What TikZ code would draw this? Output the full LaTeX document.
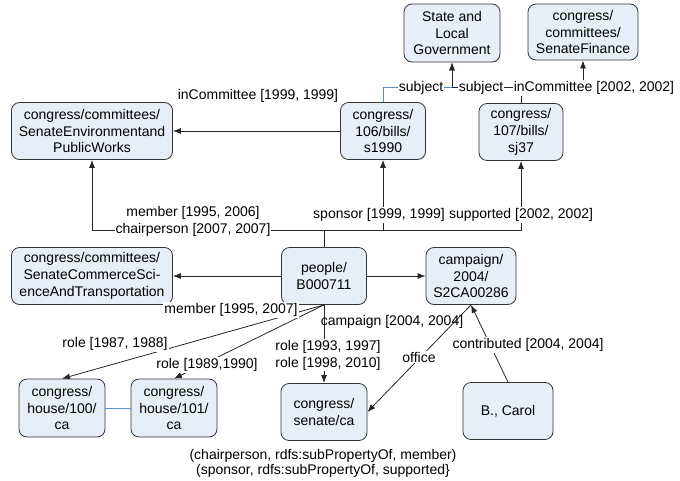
\documentclass[tikz,border=0pt]{standalone}
\usepackage{fontspec}
\setmainfont{Liberation Sans}
\usetikzlibrary{arrows.meta}
\definecolor{boxfill}{HTML}{E8EEF7}
\definecolor{subjblue}{HTML}{5B8BD0}

\begin{document}
\begin{tikzpicture}[x=1pt,y=-1pt,line width=0.8pt,
    font=\fontsize{14}{16.8}\selectfont,
    box/.style={draw=black!80,fill=boxfill,rounded corners=8pt,align=center,
      minimum height=57pt,inner sep=2pt},
    rel/.style={draw=black!85,-{Latex[length=8pt,width=6pt]}},
    lbl/.style={fill=white,inner sep=1pt,align=center}]

    \useasboundingbox (0,0) rectangle (680,480);

    \node[box,minimum width=96pt,minimum height=58pt] (state) at (452,33) {State and\\Local\\Government};
    \node[box,minimum width=110pt,minimum height=56pt] (finance) at (583,32) {congress/\\committees/\\SenateFinance};
    \node[box,minimum width=161pt] (env) at (92,131) {congress/committees/\\SenateEnvironmentand\\PublicWorks};
    \node[box,minimum width=85pt] (s1990) at (383,131) {congress/\\106/bills/\\s1990};
    \node[box,minimum width=84pt] (sj37) at (521,132) {congress/\\107/bills/\\sj37};
    \node[box,minimum width=161pt] (commerce) at (92,276) {congress/committees/\\SenateCommerceSci-\\enceAndTransportation};
    \node[box,minimum width=85pt] (people) at (324,276) {people/\\B000711};
    \node[box,minimum width=90pt] (campaign) at (471,276) {campaign/\\2004/\\S2CA00286};
    \node[box,minimum width=86pt,minimum height=58pt] (house100) at (62,408) {congress/\\house/100/\\ca};
    \node[box,minimum width=86pt,minimum height=58pt] (house101) at (174,408) {congress/\\house/101/\\ca};
    \node[box,minimum width=86pt] (senate) at (324,412) {congress/\\senate/ca};
    \node[box,minimum width=90pt] (carol) at (508,411) {B., Carol};

    % bills and committees
    \path[draw] (s1990) edge[rel] (env);
    \draw[rel,draw=subjblue] (s1990.north) -- ++(0,-15) -| (state.south);
    \draw[rel] (sj37.north) -- ++(0,-16) -| (state.south);
    \draw[rel] (sj37.north) -- ++(0,-16) -| (finance.south);

    % people bus
    \draw[rel] (people.north) -- ++(0,-17) -| (env.south);
    \draw[rel] (people.north) -- ++(0,-17) -| (s1990.south);
    \draw[rel] (people.north) -- ++(0,-17) -| (sj37.south);

    \path[draw] (people) edge[rel] (commerce);
    \path[draw] (people) edge[rel] (campaign);
    \path[draw] (people.south) edge[rel] (senate.north);
    \path[draw] (people.south) edge[rel] (house100.north);
    \path[draw] (people.south) edge[rel] (house101.north);
    \path[draw] (campaign.south) edge[rel] (senate.east);
    \path[draw] (carol.north) edge[rel] (campaign.south);
    \draw[subjblue] (house100) -- (house101);

    % labels
    \node (incom1) at (258,96) {inCommittee [1999, 1999]};
    \node[lbl] (subj1) at (421,88) {subject};
    \node[lbl] (subj2) at (481,88) {subject};
    \node[lbl] (incom2) at (594,88) {inCommittee [2002, 2002]};
    \node[lbl] (memb) at (193,221) {member [1995, 2006]\\chairperson [2007, 2007]};
    \node[lbl] (spons) at (379,215) {sponsor [1999, 1999]};
    \node[lbl] (supp) at (521,215) {supported [2002, 2002]};
    \node[lbl] (memb2) at (231,310) {member [1995, 2007]};
    \node (camp) at (392,322) {campaign [2004, 2004]};
    \node[lbl] (roles) at (328,355) {role [1993, 1997]\\role [1998, 2010]};
    \node[lbl] (role1) at (115,344) {role [1987, 1988]};
    \node[lbl] (role2) at (207,365) {role [1989,1990]};
    \node[lbl] (off) at (419,357) {office};
    \node[lbl] (contr) at (528,345) {contributed [2004, 2004]};
    \node[align=center] (note) at (323,463) {(chairperson, rdfs:subPropertyOf, member)\\[-1.8pt](sponsor, rdfs:subPropertyOf, supported\}};
\end{tikzpicture}
\end{document}
